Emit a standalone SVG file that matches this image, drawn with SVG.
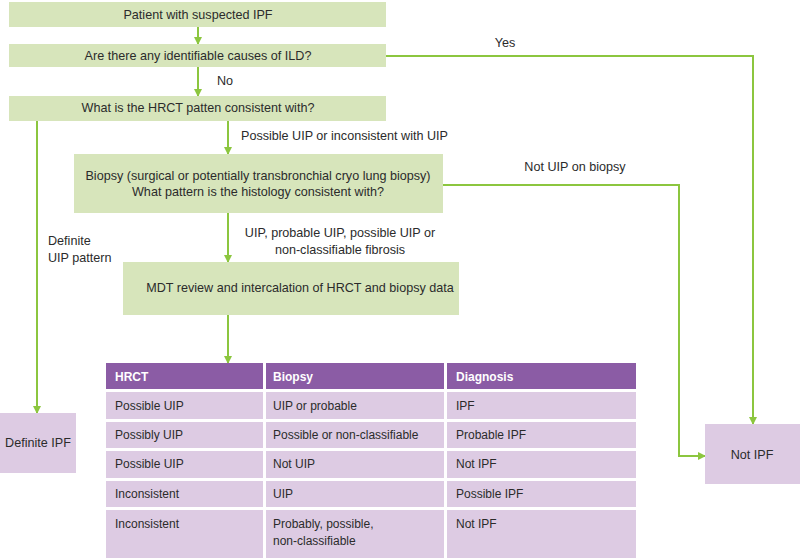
<svg xmlns="http://www.w3.org/2000/svg" width="800" height="558" viewBox="0 0 800 558">
<defs>
<marker id="ah" markerWidth="8" markerHeight="8" refX="7" refY="4" orient="auto" markerUnits="userSpaceOnUse">
<path d="M0,0 L8,4 L0,8 Z" fill="#8cc63f"/>
</marker>
<style>
text{font-family:"Liberation Sans",Arial,sans-serif;font-size:12.6px;fill:#2b2b2b}
.c{text-anchor:middle;dominant-baseline:central}
.l{dominant-baseline:central}
#table text{font-size:12px}
.g{fill:#d7e5bb}
.p{fill:#ddcbe3}
.h{fill:#8b5ca5}
#table .ht{fill:#fff;font-weight:bold}
.ln{fill:none;stroke:#8cc63f;stroke-width:2}
</style>
</defs>
<rect width="800" height="558" fill="#fff"/>
<g id="connectors">
<line class="ln" x1="198" y1="27" x2="198" y2="44" marker-end="url(#ah)"/>
<line class="ln" x1="198" y1="67" x2="198" y2="96" marker-end="url(#ah)"/>
<text class="c" x="225" y="81">No</text>
<polyline class="ln" points="386,56 753,56 753,424" marker-end="url(#ah)"/>
<text class="c" x="505" y="43">Yes</text>
<line class="ln" x1="37" y1="121" x2="37" y2="413" marker-end="url(#ah)"/>
<text class="l" x="48" y="241">Definite</text>
<text class="l" x="48" y="258">UIP pattern</text>
<line class="ln" x1="228" y1="121" x2="228" y2="154" marker-end="url(#ah)"/>
<text class="l" x="241" y="136">Possible UIP or inconsistent with UIP</text>
<polyline class="ln" points="443,185 679,185 679,456 705,456" marker-end="url(#ah)"/>
<text class="c" x="575" y="167">Not UIP on biopsy</text>
<line class="ln" x1="228" y1="213" x2="228" y2="262" marker-end="url(#ah)"/>
<text class="c" x="340" y="233">UIP, probable UIP, possible UIP or</text>
<text class="c" x="340" y="250">non-classifiable fibrosis</text>
<line class="ln" x1="228" y1="315" x2="228" y2="363" marker-end="url(#ah)"/>
</g>
<g id="n1"><rect class="g" x="9" y="2" width="377" height="25"/><text class="c" x="198" y="15">Patient with suspected IPF</text></g>
<g id="n2"><rect class="g" x="9" y="44" width="377" height="23"/><text class="c" x="198" y="56">Are there any identifiable causes of ILD?</text></g>
<g id="n3"><rect class="g" x="9" y="96" width="377" height="25"/><text class="c" x="198" y="108">What is the HRCT patten consistent with?</text></g>
<g id="n4"><rect class="g" x="74" y="154" width="369" height="59"/><text class="c" x="258" y="176">Biopsy (surgical or potentially transbronchial cryo lung biopsy)</text><text class="c" x="258" y="192">What pattern is the histology consistent with?</text></g>
<g id="n5"><rect class="g" x="123" y="262" width="336" height="53"/><text class="c" x="300" y="288">MDT review and intercalation of HRCT and biopsy data</text></g>
<g id="n6"><rect class="p" x="0" y="413" width="76" height="60"/><text class="c" x="38" y="443">Definite IPF</text></g>
<g id="n7"><rect class="p" x="705" y="424" width="95" height="60"/><text class="c" x="752" y="455">Not IPF</text></g>
<g id="table">
<rect class="h" x="106" y="363" width="157" height="26"/>
<rect class="h" x="266" y="363" width="178" height="26"/>
<rect class="h" x="447" y="363" width="189" height="26"/>
<text class="l ht" x="115" y="377">HRCT</text>
<text class="l ht" x="273" y="377">Biopsy</text>
<text class="l ht" x="456" y="377">Diagnosis</text>
<rect class="p" x="106" y="392" width="157" height="27"/><rect class="p" x="266" y="392" width="178" height="27"/><rect class="p" x="447" y="392" width="189" height="27"/>
<text class="l" x="115" y="406">Possible UIP</text><text class="l" x="273" y="406">UIP or probable</text><text class="l" x="456" y="406">IPF</text>
<rect class="p" x="106" y="422" width="157" height="26"/><rect class="p" x="266" y="422" width="178" height="26"/><rect class="p" x="447" y="422" width="189" height="26"/>
<text class="l" x="115" y="435">Possibly UIP</text><text class="l" x="273" y="435">Possible or non-classifiable</text><text class="l" x="456" y="435">Probable IPF</text>
<rect class="p" x="106" y="451" width="157" height="27"/><rect class="p" x="266" y="451" width="178" height="27"/><rect class="p" x="447" y="451" width="189" height="27"/>
<text class="l" x="115" y="464">Possible UIP</text><text class="l" x="273" y="464">Not UIP</text><text class="l" x="456" y="464">Not IPF</text>
<rect class="p" x="106" y="481" width="157" height="26"/><rect class="p" x="266" y="481" width="178" height="26"/><rect class="p" x="447" y="481" width="189" height="26"/>
<text class="l" x="115" y="494">Inconsistent</text><text class="l" x="273" y="494">UIP</text><text class="l" x="456" y="494">Possible IPF</text>
<rect class="p" x="106" y="510" width="157" height="48"/><rect class="p" x="266" y="510" width="178" height="48"/><rect class="p" x="447" y="510" width="189" height="48"/>
<text class="l" x="115" y="524">Inconsistent</text><text class="l" x="273" y="524">Probably, possible,</text><text class="l" x="273" y="541">non-classifiable</text><text class="l" x="456" y="524">Not IPF</text>
</g>
</svg>
